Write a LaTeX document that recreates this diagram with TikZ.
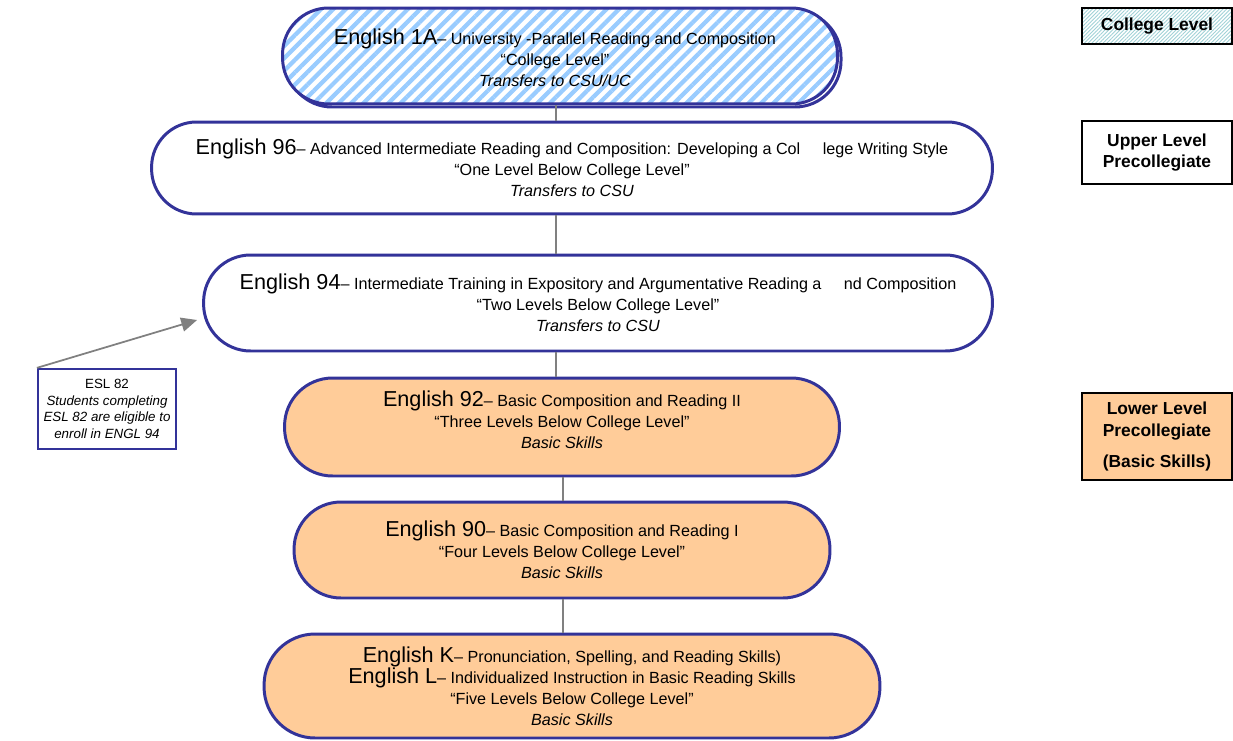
\documentclass[tikz,border=0pt]{standalone}
\usepackage{fontspec}
\setmainfont{Liberation Sans}
\usetikzlibrary{ arrows.meta, calc, patterns.meta, positioning }
\definecolor{navy}{RGB}{51,51,153}
\definecolor{peach}{RGB}{255,204,153}
\definecolor{stripe}{RGB}{153,204,255}
\definecolor{lightcyan}{RGB}{160,210,215}
\tikzset{
  x=0.02cm, y=-0.02cm,
  course/.style={draw=navy, line width=1.7pt, align=center, inner sep=1pt,
    font=\fontsize{9.2}{11.9}\selectfont},
  white course/.style={course, fill=white},
  basic course/.style={course, fill=peach},
  level/.style={draw=black, line width=1.5pt, align=center, minimum width=3cm,
    font=\fontsize{9.9}{12.4}\selectfont\bfseries},
  link/.style={draw=gray, line width=0.6pt},
}
\newcommand{\cname}[1]{{\fontsize{12.3}{12}\selectfont #1}}
\begin{document}
\begin{tikzpicture}
  \useasboundingbox (0,0) rectangle (1233,740);

  % course boxes, top to bottom
  \draw[navy, line width=1.7pt, rounded corners=0.92cm]
    (286,11) rectangle (841,107); % shadow edge
  \node[course, minimum width=11.1cm, minimum height=1.92cm, rounded corners=0.92cm,
    preaction={fill=white},
    preaction={pattern={Lines[angle=45,distance=5pt,line width=2.4pt]}, pattern color=stripe}]
    (e1a) at (560,56) {};
  \node[course, draw=none] at (555,58) {\cname{English 1A}– University -Parallel Reading and Composition\\
    “College Level”\\ \textit{Transfers to CSU/UC}};

  \node[white course, minimum width=16.82cm, minimum height=1.84cm, rounded corners=0.9cm]
    (e96) at (572,168) {\cname{English 96}– Advanced Intermediate Reading and Composition: Developing a Col\hspace{0.45cm}lege Writing Style\\
    “One Level Below College Level”\\ \textit{Transfers to CSU}};

  \node[white course, minimum width=15.78cm, minimum height=1.92cm, rounded corners=0.94cm]
    (e94) at (598,303) {\cname{English 94}– Intermediate Training in Expository and Argumentative Reading a\hspace{0.45cm}nd Composition\\
    “Two Levels Below College Level”\\ \textit{Transfers to CSU}};

  \node[basic course, minimum width=11.1cm, minimum height=1.96cm, rounded corners=0.96cm]
    (e92) at (562,427) {\cname{English 92}– Basic Composition and Reading II\\
    “Three Levels Below College Level”\\ \textit{Basic Skills}\\[-4pt]\mbox{}};

  \node[basic course, minimum width=10.72cm, minimum height=1.92cm, rounded corners=0.94cm]
    (e90) at (562,550) {\cname{English 90}– Basic Composition and Reading I\\
    “Four Levels Below College Level”\\ \textit{Basic Skills}};

  \node[basic course, minimum width=12.32cm, minimum height=2.08cm, rounded corners=1.02cm]
    (ekl) at (572,686) {\cname{English K}– Pronunciation, Spelling, and Reading Skills)\\
    \cname{English L}– Individualized Instruction in Basic Reading Skills\\
    “Five Levels Below College Level”\\ \textit{Basic Skills}};

  % vertical links
  \coordinate (upper) at ($(e1a.south)+(-4,0)$);
  \coordinate (lower) at ($(e92.south)+(1,0)$);
  \draw[link] (upper) -- (upper |- e96.north);
  \draw[link] (upper |- e96.south) -- (upper |- e94.north);
  \draw[link] (upper |- e94.south) -- (upper |- e92.north);
  \draw[link] (lower) -- (lower |- e90.north);
  \draw[link] (lower |- e90.south) -- (lower |- ekl.north);

  % ESL note
  \node[draw=navy, line width=1.3pt, fill=white, align=center, minimum width=2.76cm,
    minimum height=1.6cm, inner sep=1pt, font=\fontsize{7.6}{9.4}\selectfont]
    (esl) at (107,409) {ESL 82\\ \textit{Students completing}\\ \textit{ESL 82 are eligible to}\\
    \textit{enroll in ENGL 94}};
  \coordinate (eslend) at ($(e94.west)+(-5,17)$);
  \draw[link, line width=1pt, -{Triangle[length=9pt,width=8pt]}] (esl.north west) -- (eslend);

  % level labels
  \node[level, minimum height=0.72cm, preaction={fill=white},
    preaction={pattern={Lines[angle=45,distance=1.5pt,line width=0.5pt]}, pattern color=lightcyan}]
    (lcollege) at (1157,26) {College Level};
  \node[level, minimum height=1.26cm] (lupper) at (1157,152.5) {Upper Level\\ Precollegiate};
  \node[level, minimum height=1.74cm, fill=peach] (llower) at (1157,436.5)
    {Lower Level\\ Precollegiate\\[5pt] (Basic Skills)};
\end{tikzpicture}
\end{document}
